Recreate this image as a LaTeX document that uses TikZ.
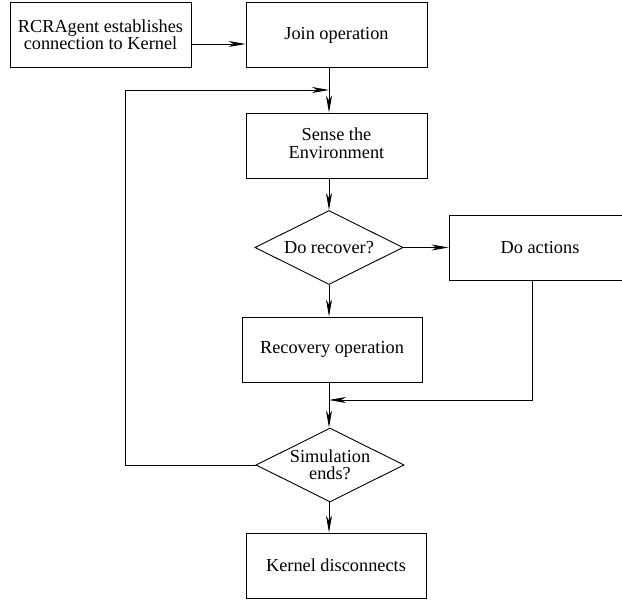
\documentclass[tikz,border=0pt]{standalone}
\usepackage{fontspec}
\setmainfont{Liberation Serif}
\usetikzlibrary{shapes.geometric,arrows.meta}
\newcommand{\lowered}[1]{\raisebox{-4pt}{#1}}
\begin{document}
\begin{tikzpicture}[x=1pt,y=-1pt,
  txt/.style={align=center, font=\fontsize{18.3}{17}\selectfont},
  box/.style={txt, draw, line width=0.9pt, minimum width=181pt, minimum height=65pt, inner sep=0pt},
  dia/.style={draw, diamond, line width=0.9pt, minimum width=148pt, minimum height=74pt, inner sep=0pt},
  wire/.style={line width=0.9pt},
  link/.style={wire, -{Stealth[length=17pt,width=6pt,inset=5pt]}}]
\clip (0,0) rectangle (622,601);

% process steps
\node[box] (start) at (100.5,35) {RCRAgent establishes\\connection to Kernel};
\node[box] (join) at (336.5,35) {\lowered{Join operation}};
\node[box, font=\fontsize{18.3}{18}\selectfont] (sense) at (336.5,145.5) {\lowered{\begin{tabular}{@{}c@{}}Sense the\\Environment\end{tabular}}};
\node[dia] (d1) at (329,247.5) {};
\node[txt] (d1t) at (d1) {Do recover?};
\node[box, minimum width=182pt] (doact) at (540,247.5) {\lowered{Do actions}};
\node[box, minimum width=180pt] (recov) at (332,349.5) {\lowered{Recovery operation}};
\node[dia] (d2) at (330,465) {};
\node[txt] (d2t) at (d2) {Simulation\\ends?};
\node[box, minimum width=180pt] (kernel) at (336,565.5) {\lowered{Kernel disconnects}};

% junction points on the main column
\coordinate (merge) at (329,90);
\coordinate (ret) at (329,400);

% connectors
\draw[link] ([yshift=-9pt]start.east) -- ([yshift=-9pt]join.west);
\draw[link] (join.south -| d1) -- (sense.north -| d1);
\draw[link] (sense.south -| d1) -- (d1.north);
\draw[link] (d1.east) -- (doact.west |- d1.east);
\draw[link] (d1.south) -- (recov.north -| d1);
\draw[link] (recov.south -| d1) -- (d2.north -| d1);
\draw[link] ([xshift=-8pt]doact.south) |- (ret);
\draw[link] (d2.west) -- ++(-130,0) |- (merge);
\draw[link] (d2.south -| d1) -- (kernel.north -| d1);
\end{tikzpicture}
\end{document}
